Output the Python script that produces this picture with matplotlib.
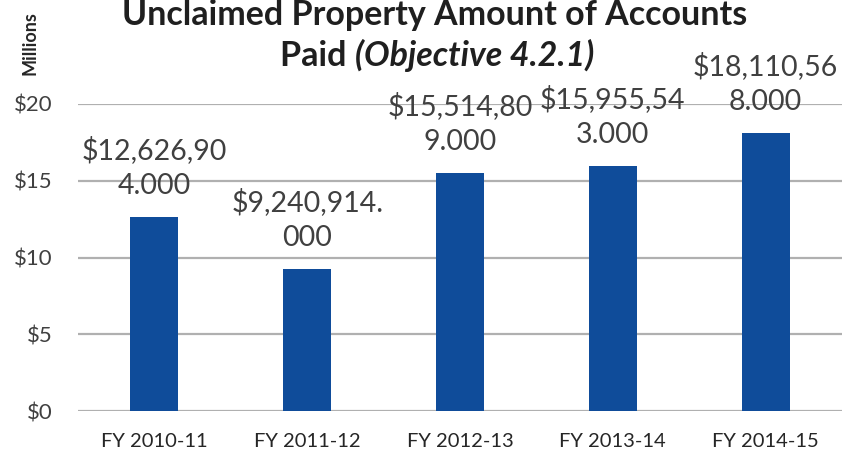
import matplotlib
matplotlib.use("Agg")
import matplotlib.pyplot as plt

categories = ["FY 2010-11", "FY 2011-12", "FY 2012-13", "FY 2013-14", "FY 2014-15"]
values = [12626904, 9240914, 15514809, 15955543, 18110568]
yticks = [0, 5, 10, 15, 20]
ytick_labels = ["$0", "$5", "$10", "$15", "$20"]
title_line1 = "Unclaimed Property Amount of Accounts"
title_line2a = "Paid "
title_line2b = "(Objective 4.2.1)"
unit_label = "Millions"

FONT = "Lato"
BAR = "#0F4C9A"
GRID = "#b0b0b0"
TXT = "#404040"

def wrap_label(s, budget=9.5):
    w = 0.0
    for i, ch in enumerate(s):
        cw = 0.5 if ch in ",." else 1.0
        if w + cw > budget:
            return s[:i] + "\n" + s[i:]
        w += cw
    return s

fig = plt.figure(figsize=(8.57, 4.55), dpi=100)
ax = fig.add_axes([78/857, 1-411/455, (842-78)/857, (411-104)/455])

x = list(range(len(categories)))
vals_m = [v/1e6 for v in values]
bars = ax.bar(x, vals_m, width=0.315, color=BAR, zorder=3)
ax.set_xlim(-0.5, len(categories)-0.5)
ax.set_ylim(0, 20)
ax.set_yticks(yticks)
ax.set_yticklabels(ytick_labels, fontsize=16, color="#404040", family=FONT)
ax.set_xticks(x)
ax.set_xticklabels(categories, fontsize=14.5, color="#262626", family=FONT)
ax.tick_params(axis="both", length=0)
ax.tick_params(axis="y", pad=18)
ax.tick_params(axis="x", pad=16)
for sp in ax.spines.values():
    sp.set_visible(False)
ax.yaxis.grid(True, color=GRID, linewidth=1.6, zorder=0)
ax.set_axisbelow(True)

for xi, v, vm in zip(x, values, vals_m):
    lab = wrap_label(f"${v:,.3f}")
    ax.annotate(lab, (xi, vm), xytext=(0, 13), textcoords="offset points",
                ha="center", va="bottom", fontsize=20.5, color=TXT, family=FONT,
                linespacing=1.42, clip_on=False, zorder=4)

fig.text(30/857, 1-43/455, unit_label, rotation=90, ha="center", va="center",
         fontsize=13, fontweight="bold", color="#262626", family=FONT)

fig.text(435/857, 1-25/455, title_line1, ha="center", va="baseline",
         fontsize=24.5, fontweight="bold", color="#1f1f1f", family=FONT)

fig.canvas.draw()
r = fig.canvas.get_renderer()
ta = fig.text(0, 1-66/455, title_line2a, ha="left", va="baseline",
              fontsize=24.5, fontweight="bold", color="#1f1f1f", family=FONT)
tb = fig.text(0, 1-66/455, title_line2b, ha="left", va="baseline",
              fontsize=24.5, fontweight="bold", style="italic", color="#1f1f1f", family=FONT)
wa = ta.get_window_extent(r).width
wb = tb.get_window_extent(r).width
start = 437 - (wa + wb)/2
ta.set_x(start/857)
tb.set_x((start + wa)/857)

fig.savefig("out.png", dpi=100)
